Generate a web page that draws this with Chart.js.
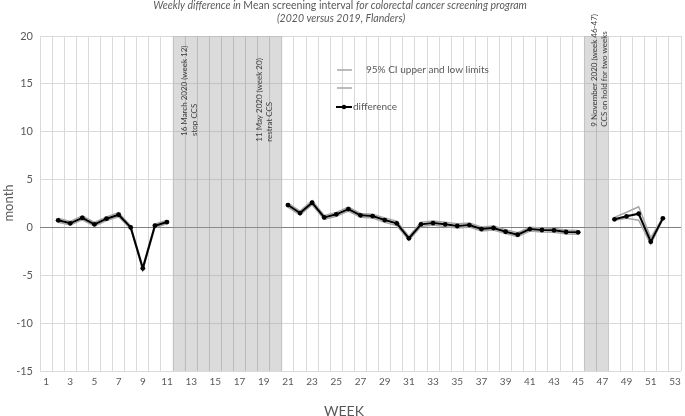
<!DOCTYPE html>
<html>
<head>
<meta charset="utf-8">
<script src="https://cdn.jsdelivr.net/npm/chart.js@4/dist/chart.umd.min.js"></script>
<style>
html,body{margin:0;padding:0;background:#fff;}
#wrap{width:685px;height:416px;}
</style>
</head>
<body>
<div id="wrap"><canvas id="c" width="685" height="416"></canvas></div>
<script>
// ---- data ----
const weeks = ['1','2','3','4','5','6','7','8','9','10','11','12','13','14','15','16','17','18','19','20','21','22','23','24','25','26','27','28','29','30','31','32','33','34','35','36','37','38','39','40','41','42','43','44','45','46','47','48','49','50','51','52','53'];
const difference = [null,0.74,0.43,1.0,0.32,0.91,1.33,0.0,-4.27,0.18,0.56,
  null,null,null,null,null,null,null,null,null,
  2.34,1.5,2.58,1.05,1.37,1.92,1.26,1.19,0.77,0.43,-1.14,0.32,0.46,0.32,0.15,0.25,-0.17,-0.06,-0.45,-0.76,-0.17,-0.27,-0.3,-0.48,-0.51,
  null,null,0.85,1.16,1.43,-1.49,0.95,null];
const ciUpper = [null,0.95,0.62,1.2,0.52,1.1,1.55,0.15,-4.1,0.35,0.75,
  null,null,null,null,null,null,null,null,null,
  2.55,1.7,2.8,1.25,1.57,2.12,1.46,1.39,1.0,0.65,-0.95,0.55,0.68,0.55,0.38,0.47,0.05,0.15,-0.25,-0.55,0.03,-0.07,-0.1,-0.28,-0.31,
  null,null,1.05,1.58,2.16,-1.07,1.05,null];
const ciLower = [null,0.55,0.25,0.8,0.12,0.72,1.12,-0.15,-4.45,0.0,0.38,
  null,null,null,null,null,null,null,null,null,
  2.12,1.3,2.38,0.85,1.17,1.72,1.06,0.99,0.55,0.2,-1.35,0.1,0.25,0.1,-0.07,0.03,-0.38,-0.27,-0.65,-0.97,-0.37,-0.47,-0.5,-0.68,-0.71,
  null,null,0.74,0.95,0.75,-1.77,0.85,null];
const shadedWeeks = ['12','13','14','15','16','17','18','19','20','46','47'];
const yRange = [-15, 20];
const yStep = 5;
const titleLine1 = [['Weekly difference in ', true], ['Mean screening interval ', false], ['for colorectal cancer screening program', true]];
const titleLine2 = '(2020 versus 2019, Flanders)';
const yTitle = 'month';
const xTitle = 'WEEK';
const legendCI = '95% CI upper and low limits';
const legendDiff = 'difference';
const notes = [
  {week:'12', lines:['16 March 2020 (week 12)','stop CCS']},
  {week:'20', lines:['11 May 2020 (week 20)','restrat CCS']},
  {week:'46', lines:['9 November 2020 (week 46-47)','CCS on hold for two weeks']}
];

const shade = weeks.map(w => shadedWeeks.includes(w) ? yRange.slice() : null);
const FONT = 'Lato, "Open Sans", sans-serif';
const TXT = '#595959';

const overlay = {
  id: 'overlay',
  afterDraw(chart) {
    const ctx = chart.ctx;
    const xs = chart.scales.x;
    ctx.save();
    // title
    ctx.fillStyle = TXT;
    ctx.textBaseline = 'middle';
    let total = 0;
    const fnt = it => (it ? 'italic ' : '') + '10.5px ' + FONT;
    titleLine1.forEach(([t, it]) => { ctx.font = fnt(it); total += ctx.measureText(t).width; });
    let x = 340 - total / 2;
    ctx.textAlign = 'left';
    titleLine1.forEach(([t, it]) => { ctx.font = fnt(it); ctx.fillText(t, x, 6); x += ctx.measureText(t).width; });
    ctx.font = fnt(true);
    ctx.textAlign = 'center';
    ctx.fillText(titleLine2, 341, 19);
    // axis titles
    ctx.font = '13px ' + FONT;
    ctx.save();
    ctx.translate(9, 203);
    ctx.rotate(-Math.PI / 2);
    ctx.fillText(yTitle, 0, 0);
    ctx.restore();
    ctx.font = '14px ' + FONT;
    ctx.fillText(xTitle, 344, 411);
    // annotations
    ctx.fillStyle = '#404040';
    ctx.font = '8px ' + FONT;
    ctx.textAlign = 'left';
    const spec = [
      {dx:[5.5, 15], bottom:136},
      {dx:[-16, -6.8], bottom:141.7},
      {dx:[4.6, 14], bottom:126.7}
    ];
    notes.forEach((n, k) => {
      const cx = xs.getPixelForValue(weeks.indexOf(n.week));
      n.lines.forEach((ln, j) => {
        ctx.save();
        ctx.translate(cx + spec[k].dx[j], spec[k].bottom);
        ctx.rotate(-Math.PI / 2);
        ctx.fillText(ln, 0, 0);
        ctx.restore();
      });
    });
    // legend
    ctx.strokeStyle = '#a6a6a6';
    ctx.lineWidth = 1.5;
    [70, 88].forEach(yy => { ctx.beginPath(); ctx.moveTo(337, yy); ctx.lineTo(352, yy); ctx.stroke(); });
    ctx.strokeStyle = '#000';
    ctx.lineWidth = 2;
    ctx.beginPath(); ctx.moveTo(336, 107); ctx.lineTo(352, 107); ctx.stroke();
    ctx.fillStyle = '#000';
    ctx.beginPath(); ctx.arc(344, 107, 2.2, 0, Math.PI * 2); ctx.fill();
    ctx.fillStyle = TXT;
    ctx.font = '10px ' + FONT;
    ctx.fillText(legendCI, 366, 70);
    ctx.fillText(legendDiff, 353, 107);
    ctx.restore();
  }
};

new Chart(document.getElementById('c'), {
  type: 'line',
  data: {
    labels: weeks,
    datasets: [
      {label: legendDiff, data: difference, borderColor: '#000', backgroundColor: '#000', borderWidth: 2,
       pointRadius: 2.4, pointBackgroundColor: '#000', pointBorderWidth: 0, tension: 0, order: 0},
      {label: legendCI, data: ciUpper, borderColor: '#a6a6a6', borderWidth: 1.5, pointRadius: 0, tension: 0, order: 1},
      {label: '', data: ciLower, borderColor: '#a6a6a6', borderWidth: 1.5, pointRadius: 0, tension: 0, order: 2},
      {type: 'bar', label: 'shade', data: shade, backgroundColor: 'rgba(160,160,160,0.38)', borderWidth: 0,
       barPercentage: 1, categoryPercentage: 1, order: 3}
    ]
  },
  options: {
    responsive: false,
    animation: false,
    devicePixelRatio: 1,
    layout: {padding: {top: 36, right: 1, left: 0, bottom: 0}},
    plugins: {legend: {display: false}, tooltip: {enabled: false}, title: {display: false}},
    scales: {
      x: {
        type: 'category',
        offset: true,
        grid: {offset: true, color: '#d9d9d9', drawTicks: false},
        border: {display: false},
        ticks: {autoSkip: false, maxRotation: 0, color: TXT, font: {family: FONT, size: 10}, padding: 5,
          callback: (v, i) => (i % 2 === 0 ? weeks[i] : '')},
        afterFit: s => { s.height = 45; s.paddingLeft = 0; s.paddingRight = 0; }
      },
      y: {
        min: yRange[0], max: yRange[1],
        grid: {color: c => (c.tick && c.tick.value === 0 ? '#808080' : '#d9d9d9'), drawTicks: false},
        border: {display: false},
        ticks: {stepSize: yStep, color: TXT, font: {family: FONT, size: 11}, padding: 7},
        afterFit: s => { s.width = 40; s.paddingTop = 0; s.paddingBottom = 0; }
      }
    }
  },
  plugins: [overlay]
});
</script>
</body>
</html>
